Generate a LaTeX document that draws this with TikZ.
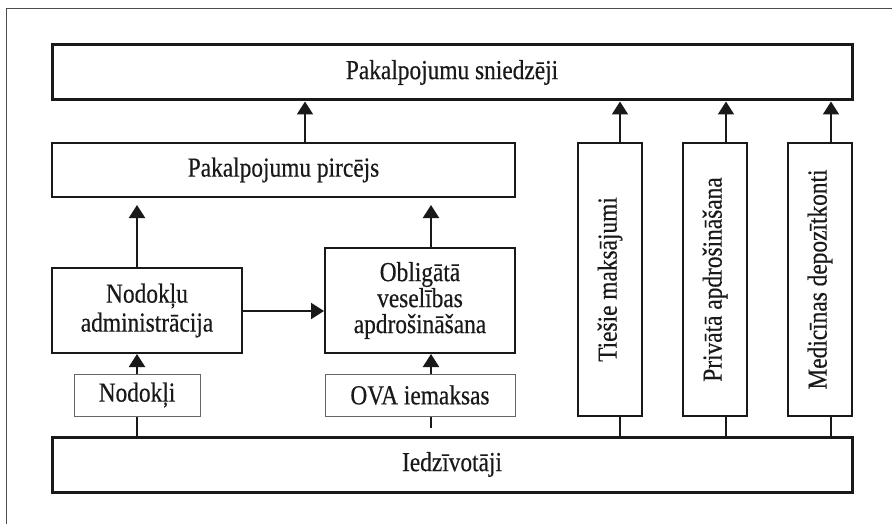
\documentclass[tikz,border=0pt]{standalone}
\usepackage{fontspec}
\setmainfont{Liberation Serif}[FakeStretch=0.85, FakeBold=0.4]
\usetikzlibrary{arrows.meta}
\begin{document}
\begin{tikzpicture}[x=1pt,y=-1pt,
  every node/.style={inner sep=0pt, font=\fontsize{27.5}{29}\selectfont, align=center, text=black!90},
  bigbox/.style={draw=black!90, line width=3pt, minimum width=800pt, minimum height=55pt},
  midbox/.style={draw=black!90, line width=1.4pt},
  orgbox/.style={draw=black!90, line width=2pt, minimum width=190pt},
  smallbox/.style={draw=black!60, line width=1pt, minimum height=42pt},
  vbox/.style={draw=black!90, line width=1.6pt, minimum width=273pt, minimum height=64pt, rotate=90},
  flow/.style={line width=2pt, draw=black!90, -{Triangle[length=13pt,width=16pt]}},
  link/.style={line width=2pt, draw=black!90}]
\useasboundingbox (0,0) rectangle (892,524);
\fill[white] (0,0) rectangle (892,524);
% frame
\draw[black!70, line width=1pt] (6,524) -- (6,9) -- (892,9);

% main boxes
\node[bigbox] (prov) at (452,72.5) {Pakalpojumu sniedzēji};
\node[bigbox] (pop) at (452,464.5) {Iedzīvotāji};
\node[midbox, minimum width=463pt, minimum height=54pt] (buyer) at (283.5,170) {Pakalpojumu pircējs};
\node[orgbox, minimum height=85pt] (tax) at (147,310.5) {Nodokļu\\[0pt]administrācija};
\node[orgbox, minimum height=105pt] (ova) at (420,300.5) {Obligātā\\[-3pt]veselības\\[-3pt]apdrošināšana};
\node[smallbox, minimum width=126pt] (taxes) at (137,395) {Nodokļi};
\node[smallbox, minimum width=190pt] (fees) at (420,395) {OVA iemaksas};

% vertical channels
\node[vbox] (direct) at (610,279.5) {Tiešie maksājumi};
\node[vbox] (priv) at (715,279.5) {Privātā apdrošināšana};
\node[vbox] (msa) at (820,279.5) {Medicīnas depozītkonti};

% arrows
\draw[flow] (buyer.north -| 305,0) -- (prov.south -| 305,0);
\draw[flow] (tax.north -| 137,0) -- (137,205);
\draw[flow] (ova.north -| 431,0) -- (431,205);
\draw[flow] (tax.east |- 0,311) -- (ova.west |- 0,311);
\draw[flow] (taxes.north) -- (tax.south -| taxes.north);
\draw[flow] (fees.north -| 431,0) -- (ova.south -| 431,0);
\draw[link] (pop.north -| taxes.south) -- (taxes.south);
\coordinate (feestub) at (431,428);
\draw[link] (fees.south -| 431,0) -- (feestub);
\foreach \n/\xx in {direct/620, priv/726, msa/831}{
  \draw[flow] (\n.east -| \xx,0) -- (prov.south -| \xx,0);
  \draw[link] (pop.north -| \xx,0) -- (\n.west -| \xx,0);
}
\end{tikzpicture}
\end{document}
